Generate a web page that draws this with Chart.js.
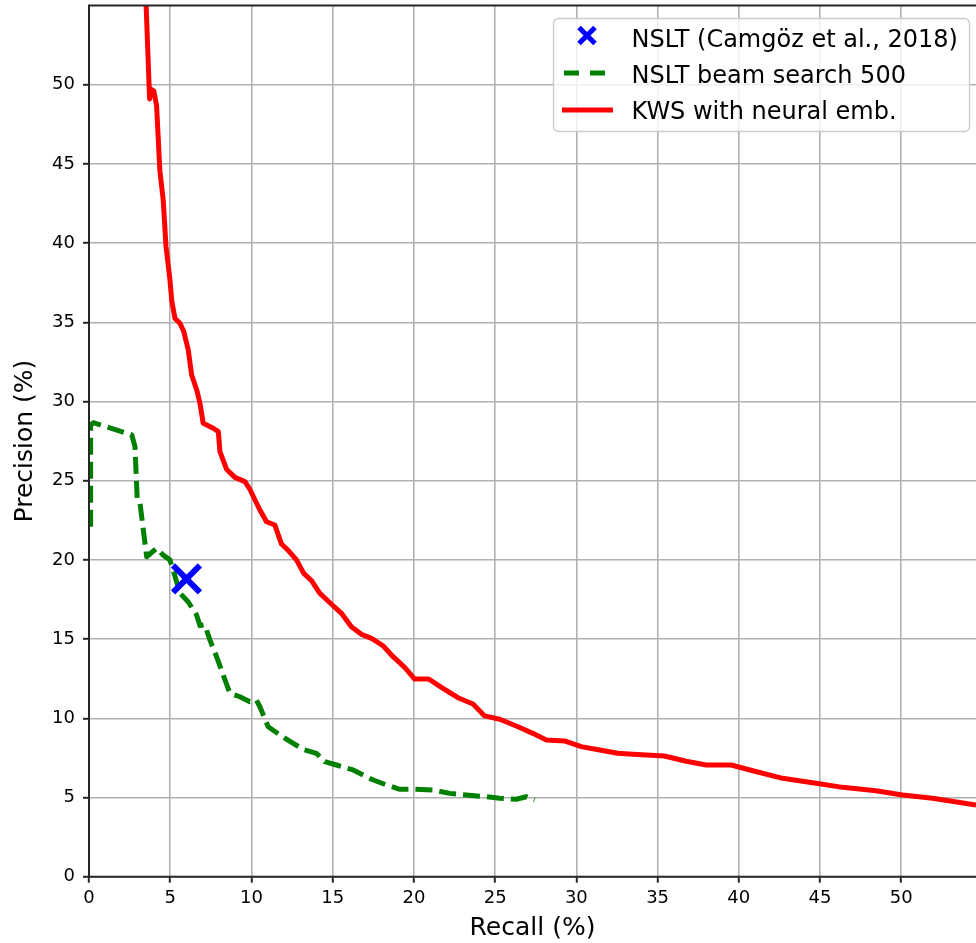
<!DOCTYPE html>
<html>
<head>
<meta charset="utf-8">
<script src="https://cdn.jsdelivr.net/npm/chart.js@4"></script>
<style>
  html, body { margin: 0; padding: 0; background: #fff; }
  #chart { display: block; }
</style>
</head>
<body>
<canvas id="chart" width="976" height="943"></canvas>
<script>
// values (recall %, precision %)
const kwsRecall = [3.48, 3.73, 3.85, 3.99, 4.16, 4.36, 4.57, 4.74, 4.98, 5.09, 5.29, 5.6, 5.84, 6.11, 6.32, 6.63, 6.83, 7.03, 7.65, 7.96,
    8.06, 8.47, 8.98, 9.6, 9.9, 10.52, 10.93, 11.44, 11.85, 12.26, 12.77, 13.22, 13.69, 14.2, 14.93, 15.54, 16.15, 16.77, 17.39, 18.1,
    18.72, 19.43, 20.05, 20.91, 21.79, 22.71, 23.64, 24.35, 25.28, 26.3, 27.32, 28.15, 29.27, 30.3, 31.43, 32.55, 33.48, 35.42, 36.76, 37.99,
    39.53, 40.86, 42.7, 44.75, 46.39, 48.44, 50.08, 51.93, 54.6];
const kwsPrecision = [56.0, 49.1, 49.7, 49.6, 48.7, 44.6, 42.7, 39.8, 37.7, 36.4, 35.25, 34.94, 34.4, 33.25, 31.67, 30.73, 29.89, 28.62, 28.31, 28.1,
    26.83, 25.72, 25.21, 24.94, 24.46, 23.15, 22.41, 22.2, 21.0, 20.6, 20.0, 19.15, 18.7, 17.9, 17.2, 16.63, 15.78, 15.3, 15.05, 14.58,
    13.89, 13.22, 12.48, 12.48, 11.89, 11.3, 10.9, 10.15, 9.94, 9.51, 9.05, 8.63, 8.57, 8.21, 8.0, 7.79, 7.73, 7.62, 7.29, 7.05,
    7.05, 6.69, 6.21, 5.9, 5.64, 5.43, 5.16, 4.95, 4.53];

const beamRecall = [0.1, 0.1, 0.26, 2.63, 2.83, 2.97, 3.14, 3.55, 4.16, 4.57, 4.98, 5.18, 5.6, 6.1, 6.62, 6.83, 7.13, 7.44, 7.85, 8.67,
    9.29, 9.9, 10.31, 10.52, 11.03, 11.75, 12.57, 13.18, 14.0, 14.51, 15.23, 16.26, 17.39, 18.31, 19.13, 19.95, 21.17, 22.2, 23.23, 24.46,
    25.28, 26.3, 26.92, 27.43];
const beamPrecision = [22.1, 28.5, 28.66, 27.9, 27.15, 23.78, 23.57, 20.2, 20.73, 20.3, 20.0, 19.36, 17.9, 17.36, 16.52, 15.85, 15.9, 14.95, 13.9, 11.58,
    11.36, 11.05, 11.15, 10.73, 9.47, 8.95, 8.42, 8.04, 7.79, 7.26, 7.05, 6.74, 6.15, 5.79, 5.52, 5.52, 5.47, 5.26, 5.16, 5.05,
    4.95, 4.89, 5.05, 4.84];

const nsltRecall = [6.0];
const nsltPrecision = [18.8];

const xTickValues = [0, 5, 10, 15, 20, 25, 30, 35, 40, 45, 50];
const yTickValues = [0, 5, 10, 15, 20, 25, 30, 35, 40, 45, 50];

const labels = ['NSLT (Camgöz et al., 2018)', 'NSLT beam search 500', 'KWS with neural emb.'];

function toPoints(xs, ys) {
    return xs.map((x, i) => ({ x: x, y: ys[i] }));
}

const FONT = "'DejaVu Sans', 'Noto Sans', sans-serif";
const SPINE = '#262626';

// matplotlib style spines (drawn over the lines) and the boxed legend
const frameAndLegend = {
    id: 'frameAndLegend',
    afterDatasetsDraw(chart) {
        const { ctx, chartArea: a } = chart;
        ctx.save();
        ctx.strokeStyle = SPINE;
        ctx.lineWidth = 2;
        ctx.lineCap = 'square';
        ctx.beginPath();
        ctx.moveTo(a.left, a.bottom);
        ctx.lineTo(a.left, a.top);
        ctx.lineTo(a.right + 2, a.top);
        ctx.moveTo(a.left, a.bottom);
        ctx.lineTo(a.right + 2, a.bottom);
        ctx.stroke();
        ctx.restore();
    },
    afterDraw(chart) {
        const ctx = chart.ctx;
        const ds = chart.data.datasets;
        ctx.save();
        // box
        const bx = 553.5, by = 18.5, bw = 416, bh = 113, r = 5;
        ctx.beginPath();
        ctx.moveTo(bx + r, by);
        ctx.arcTo(bx + bw, by, bx + bw, by + bh, r);
        ctx.arcTo(bx + bw, by + bh, bx, by + bh, r);
        ctx.arcTo(bx, by + bh, bx, by, r);
        ctx.arcTo(bx, by, bx + bw, by, r);
        ctx.closePath();
        ctx.fillStyle = 'rgba(255,255,255,0.8)';
        ctx.fill();
        ctx.strokeStyle = '#cccccc';
        ctx.lineWidth = 1.3;
        ctx.stroke();

        const rows = [35.5, 73, 110];
        // marker entry
        ctx.strokeStyle = ds[0].borderColor;
        ctx.lineWidth = 5;
        const m = 8;
        ctx.beginPath();
        ctx.moveTo(587 - m, rows[0] - m); ctx.lineTo(587 + m, rows[0] + m);
        ctx.moveTo(587 - m, rows[0] + m); ctx.lineTo(587 + m, rows[0] - m);
        ctx.stroke();
        // dashed entry
        ctx.strokeStyle = ds[1].borderColor;
        ctx.lineWidth = 5;
        ctx.setLineDash([15, 11]);
        ctx.beginPath();
        ctx.moveTo(564, rows[1]); ctx.lineTo(605, rows[1]);
        ctx.stroke();
        ctx.setLineDash([]);
        // solid entry
        ctx.strokeStyle = ds[2].borderColor;
        ctx.beginPath();
        ctx.moveTo(562, rows[2]); ctx.lineTo(613, rows[2]);
        ctx.stroke();

        ctx.fillStyle = '#000';
        ctx.font = '24px ' + FONT;
        ctx.textBaseline = 'alphabetic';
        const baselines = [46.5, 82.5, 119.3];
        ds.forEach((d, i) => ctx.fillText(d.label, 631.5, baselines[i]));
        ctx.restore();
    }
};

const ctx = document.getElementById('chart');

new Chart(ctx, {
    type: 'scatter',
    data: {
        datasets: [{
            label: labels[0],
            data: toPoints(nsltRecall, nsltPrecision),
            pointStyle: 'crossRot',
            pointRadius: 19,
            pointBorderWidth: 6,
            borderColor: '#0000ff',
            backgroundColor: '#0000ff',
            order: 0
        }, {
            label: labels[1],
            data: toPoints(beamRecall, beamPrecision),
            showLine: true,
            borderColor: '#008000',
            borderWidth: 5,
            borderDash: [17, 7],
            borderJoinStyle: 'round',
            pointRadius: 0,
            order: 1
        }, {
            label: labels[2],
            data: toPoints(kwsRecall, kwsPrecision),
            showLine: true,
            borderColor: '#ff0000',
            borderWidth: 5,
            borderJoinStyle: 'round',
            pointRadius: 0,
            clip: 0,
            order: 2
        }]
    },
    options: {
        responsive: false,
        animation: false,
        devicePixelRatio: 1,
        layout: { autoPadding: false, padding: { top: 5.5, right: 0, left: 0, bottom: 0 } },
        plugins: {
            legend: { display: false },
            tooltip: { enabled: false }
        },
        scales: {
            x: {
                type: 'linear',
                min: 0,
                max: 54.6,
                afterBuildTicks: scale => { scale.ticks = xTickValues.map(v => ({ value: v })); },
                afterFit: scale => {
                    scale.height = 66.3;
                    scale.paddingLeft = 0;
                    scale.paddingRight = 0;
                },
                grid: {
                    color: '#b0b0b0',
                    lineWidth: 1.6,
                    tickColor: SPINE,
                    tickWidth: 2,
                    tickLength: 6
                },
                border: { display: false },
                ticks: {
                    color: '#000',
                    font: { family: FONT, size: 18 },
                    padding: 5,
                    maxRotation: 0
                },
                title: {
                    display: true,
                    text: 'Recall (%)',
                    color: '#000',
                    font: { family: FONT, size: 25 },
                    padding: { top: 0, bottom: 0 }
                }
            },
            y: {
                type: 'linear',
                min: 0,
                max: 55,
                afterBuildTicks: scale => { scale.ticks = yTickValues.map(v => ({ value: v })); },
                afterFit: scale => {
                    scale.width = 89;
                    scale.paddingTop = 0;
                    scale.paddingBottom = 0;
                },
                grid: {
                    color: '#b0b0b0',
                    lineWidth: 1.6,
                    tickColor: SPINE,
                    tickWidth: 2,
                    tickLength: 6
                },
                border: { display: false },
                ticks: {
                    color: '#000',
                    font: { family: FONT, size: 18 },
                    padding: 8
                },
                title: {
                    display: true,
                    text: 'Precision (%)',
                    color: '#000',
                    font: { family: FONT, size: 25 },
                    padding: { top: 10, bottom: 0 }
                }
            }
        }
    },
    plugins: [frameAndLegend]
});
</script>
</body>
</html>
